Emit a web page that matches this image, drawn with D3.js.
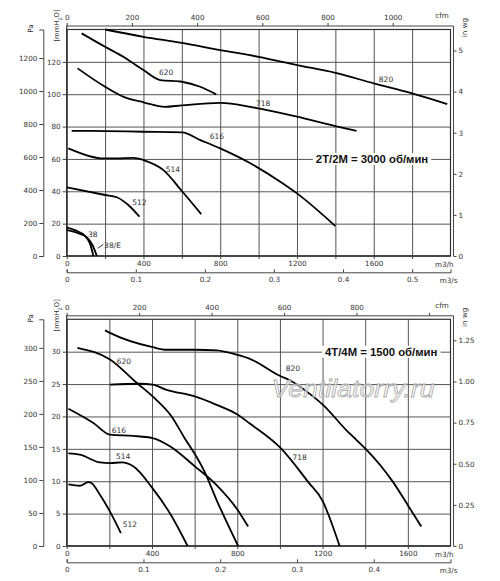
<!DOCTYPE html>
<html>
<head>
<meta charset="utf-8">
<script src="https://cdn.jsdelivr.net/npm/d3@7.9.0/dist/d3.min.js"></script>
<style>
  body { margin: 0; background: #fff; }
  svg text { font-family: "DejaVu Sans", sans-serif; fill: #333; }
  .grid line { stroke: #555; stroke-width: 1; }
  .grid path { display: none; }
  .axis path, .axis line { stroke: #444; stroke-width: 1; }
  .curve { fill: none; stroke: #000; stroke-width: 1.8; }
</style>
</head>
<body>
<svg id="chart" width="500" height="581"></svg>
<script>
const MM_TO_PA = 9.80665;
const MM_PER_INWG = 25.4;
const M3H_PER_CFM = 1.699;

// ---- 2T/2M (3000 rpm): airflow m3/h vs pressure mmH2O ----
const top820 = [[200,140],[400,135.5],[600,131.7],[800,127.3],[1000,123.1],[1200,118],[1400,113.2],[1600,106.7],[1800,100.5],[1983,93.9]];
const top620 = [[78,137.6],[200,129.3],[295,123.1],[400,114.9],[487,108.7],[600,107.7],[696,104.6],[779,99.9]];
const top718 = [[57,116],[200,104.6],[300,98.2],[400,95],[513,92.2],[600,93.1],[800,94.7],[957,92.2],[1000,91.2],[1200,86.1],[1400,80.3],[1510,77.4]];
const top616 = [[26,77.4],[200,77.2],[400,76.8],[600,76.4],[700,71.5],[800,66.5],[957,57.3],[1113,45.9],[1200,38.7],[1400,18.5]];
const top514 = [[8,66.5],[200,60.3],[261,60.3],[348,60.7],[400,59.3],[504,53.1],[600,40.2],[701,25.9]];
const top512 = [[0,42.4],[200,37.7],[261,36.3],[321,31.5],[379,24.3]];
const top38  = [[0,17.7],[61,15],[95,12.5],[121,7.8],[139,0]];
const top38E = [[0,16.1],[61,14],[104,11.6],[134,6.8],[157,0]];

const topLabels = [
  ['620', 518, 113.2], ['718', 1024, 94.3], ['820', 1664, 109.4], ['616', 783, 74.1],
  ['514', 553, 53.6], ['512', 379, 32.9], ['38', 136, 13.6]
];
const topMmTicks   = [0, 20, 40, 60, 80, 100, 120];
const topPaTicks   = [0, 200, 400, 600, 800, 1000, 1200];
const topInwgTicks = [0, 1, 2, 3, 4, 5];
const topCfmTicks  = [0, 200, 400, 600, 800, 1000];
const topFlowTicks = [0, 200, 400, 600, 800, 1000, 1200, 1400, 1600, 1800];
const topM3sTicks  = [0, 0.1, 0.2, 0.3, 0.4, 0.5];
const topTitle = '2T/2M = 3000 об/мин';

// ---- 4T/4M (1500 rpm) ----
const bot820 = [[180,33.3],[203,32.9],[403,30.7],[468,30.3],[601,30.3],[703,30.2],[801,29.5],[859,28.9],[1004,26.2],[1046,25.6],[1155,23.1],[1202,21.8],[1311,17.9],[1358,16.4],[1402,15],[1530,9.9],[1600,6.3],[1663,3.0]];
const bot620 = [[50,30.6],[203,28.8],[328,25.2],[403,23.1],[492,20],[554,16.6],[601,14.2],[643,11.7],[703,7.1],[804,0]];
const bot718 = [[203,24.9],[343,25.05],[403,24.9],[468,24.1],[601,23.1],[703,21.8],[801,20.3],[859,18.9],[1004,15.1],[1132,9.9],[1202,6.85],[1225,5.05],[1280,0]];
const bot616 = [[8,21.2],[125,19],[203,17.2],[312,17.0],[403,16.65],[484,15.4],[601,12.3],[703,9.4],[801,5.6],[851,3.0]];
const bot514 = [[8,14.3],[62,14.1],[156,12.9],[203,12.8],[258,12.9],[312,12.3],[403,8.9],[484,5.05],[567,0]];
const bot512 = [[8,9.5],[62,9.3],[101,9.85],[117,9.7],[156,7.9],[203,5.3],[254,2.0]];

const botLabels = [
  ['820', 1061, 27.4], ['620', 268, 28.5], ['718', 1093, 13.7], ['616', 245, 17.9],
  ['514', 265, 13.8], ['512', 296, 3.4]
];
const botMmTicks   = [0, 5, 10, 15, 20, 25, 30];
const botPaTicks   = [0, 50, 100, 150, 200, 250, 300];
const botInwgTicks = [0, 0.25, 0.5, 0.75, 1.0, 1.25];
const botCfmTicks  = [0, 200, 400, 600, 800, 1000];
const botFlowTicks = [0, 200, 400, 600, 800, 1000, 1200, 1400, 1600];
const botM3sTicks  = [0, 0.1, 0.2, 0.3, 0.4];
const botTitle = '4T/4M = 1500 об/мин';

const panels = [
  {
    top: 29.5, bottom: 256, left: 66.7, right: 450.5, flowMax: 2000, mmMax: 140,
    curves: [top820, top620, top718, top616, top514, top512, top38, top38E],
    labels: topLabels, mmTicks: topMmTicks, paTicks: topPaTicks, inwgTicks: topInwgTicks,
    inwgFmt: d3.format('d'), cfmTicks: topCfmTicks, cfmShown: d => true,
    flowTicks: topFlowTicks, m3sTicks: topM3sTicks,
    title: topTitle, titleAt: [1591, 60], extra: 'e38'
  },
  {
    top: 319.3, bottom: 546, left: 66.7, right: 450.5, flowMax: 1800, mmMax: 35,
    curves: [bot820, bot620, bot718, bot616, bot514, bot512],
    labels: botLabels, mmTicks: botMmTicks, paTicks: botPaTicks, inwgTicks: botInwgTicks,
    inwgFmt: d => d === 0 ? '0' : d3.format('.2f')(d), cfmTicks: botCfmTicks, cfmShown: d => d < 1000,
    flowTicks: botFlowTicks, m3sTicks: botM3sTicks,
    title: botTitle, titleAt: [1475, 30], extra: 'watermark'
  }
];

const svg = d3.select('#chart');
const FS = 7.2;

function drawPanel(p) {
  const g = svg.append('g');
  const x = d3.scaleLinear().domain([0, p.flowMax]).range([p.left, p.right]);
  const y = d3.scaleLinear().domain([0, p.mmMax]).range([p.bottom, p.top]);
  const w = p.right - p.left, h = p.bottom - p.top;

  // gridlines
  g.append('g').attr('class', 'grid')
    .attr('transform', `translate(0,${p.bottom})`)
    .call(d3.axisBottom(x).tickValues(p.flowTicks.filter(d => d > 0)).tickSize(-h).tickFormat(''));
  g.append('g').attr('class', 'grid')
    .attr('transform', `translate(${p.left},0)`)
    .call(d3.axisLeft(y).tickValues(p.mmTicks.filter(d => d > 0)).tickSize(-w).tickFormat(''));

  // frame
  g.append('rect').attr('x', p.left).attr('y', p.top).attr('width', w).attr('height', h)
    .attr('fill', 'none').attr('stroke', '#333').attr('stroke-width', 1.2);
  g.append('line').attr('x1', p.left).attr('x2', p.right).attr('y1', p.bottom).attr('y2', p.bottom)
    .attr('stroke', '#333').attr('stroke-width', 1.6);

  // mmH2O axis (left frame)
  const mmAxis = g.append('g').attr('class', 'axis').attr('transform', `translate(${p.left},0)`)
    .call(d3.axisLeft(y).tickValues(p.mmTicks).tickSize(4).tickSizeOuter(0).tickPadding(2));
  mmAxis.selectAll('text').style('font-size', FS + 'px');
  g.append('line').attr('x1', p.left).attr('x2', p.left).attr('y1', p.top - 4).attr('y2', p.bottom)
    .attr('stroke', '#333').attr('stroke-width', 1.2);

  // Pa axis
  const pa = d3.scaleLinear().domain([0, p.mmMax * MM_TO_PA]).range([p.bottom, p.top]);
  const paAxis = g.append('g').attr('class', 'axis').attr('transform', 'translate(43.3,0)')
    .call(d3.axisLeft(pa).tickValues(p.paTicks).tickFormat(d3.format('d')).tickSize(4).tickPadding(2));
  paAxis.selectAll('text').style('font-size', FS + 'px');

  // in wg axis (right)
  const wg = d3.scaleLinear().domain([0, p.mmMax / MM_PER_INWG]).range([p.bottom, p.top]);
  const wgX = p.right + 3;
  const wgAxis = g.append('g').attr('class', 'axis').attr('transform', `translate(${wgX},0)`)
    .call(d3.axisRight(wg).tickValues(p.inwgTicks).tickFormat(p.inwgFmt).tickSize(3).tickSizeOuter(0).tickPadding(2));
  wgAxis.selectAll('text').style('font-size', FS + 'px');
  wgAxis.select('.domain').attr('d', `M0,${p.top - 3.5}V${p.bottom}`);

  // cfm axis (top)
  const cfm = d3.scaleLinear().domain([0, p.flowMax / M3H_PER_CFM]).range([p.left, p.right]);
  const cfmAxis = g.append('g').attr('class', 'axis').attr('transform', `translate(0,${p.top - 3.5})`)
    .call(d3.axisTop(cfm).tickValues(p.cfmTicks).tickFormat(d => p.cfmShown(d) ? d : '')
      .tickSize(3).tickSizeOuter(0).tickPadding(3));
  cfmAxis.selectAll('text').style('font-size', FS + 'px');
  cfmAxis.select('.domain').attr('d', `M${p.left},0H${wgX}`);

  // m3/h axis (bottom)
  const flowAxis = g.append('g').attr('class', 'axis').attr('transform', `translate(0,${p.bottom})`)
    .call(d3.axisBottom(x).tickValues(p.flowTicks).tickFormat(d => d % 400 === 0 ? d : '')
      .tickSize(3).tickSizeOuter(0).tickPadding(2));
  flowAxis.selectAll('text').style('font-size', FS + 'px');
  flowAxis.select('.domain').remove();

  // m3/s axis
  const m3s = d3.scaleLinear().domain([0, p.flowMax / 3600]).range([p.left, p.right]);
  const m3sAxis = g.append('g').attr('class', 'axis').attr('transform', `translate(0,${p.bottom + 16.3})`)
    .call(d3.axisBottom(m3s).tickValues(p.m3sTicks).tickFormat(d => d === 0 ? '0' : d3.format('.1f')(d))
      .tickSizeInner(-3).tickSizeOuter(-3).tickPadding(5));
  m3sAxis.selectAll('text').style('font-size', FS + 'px');

  // unit labels
  const unit = (txt, tx, ty, rot, anchor) => g.append('text')
    .attr('transform', `translate(${tx},${ty}) rotate(${rot})`)
    .attr('text-anchor', anchor).attr('dy', '0.35em').style('font-size', FS + 'px').text(txt);
  unit('Pa', 30, p.top - 1, -90, 'middle');
  unit('in wg', 464, p.top - 2, -90, 'middle');
  unit('cfm', 442, p.top - 14, 0, 'middle');
  unit('m3/h', p.right + 3, p.bottom + 8, 0, 'end');
  unit('m3/s', p.right + 7, p.bottom + 24, 0, 'end');
  const mmLabel = g.append('text')
    .attr('transform', `translate(57,${p.top - 4}) rotate(-90)`)
    .attr('text-anchor', 'middle').attr('dy', '0.35em').style('font-size', '6.8px');
  mmLabel.append('tspan').text('[mmH');
  mmLabel.append('tspan').attr('baseline-shift', 'sub').style('font-size', '5px').text('2');
  mmLabel.append('tspan').text('O]');

  // title with white box
  const tt = g.append('text').attr('x', x(p.titleAt[0])).attr('y', y(p.titleAt[1]))
    .attr('text-anchor', 'middle').attr('dy', '0.36em')
    .style('font-family', '"Liberation Sans", Arial, sans-serif')
    .style('font-weight', 'bold').style('font-size', '11.3px').style('fill', '#111')
    .text(p.title);
  const bb = tt.node().getBBox();
  g.insert('rect', () => tt.node())
    .attr('x', bb.x - 3).attr('y', bb.y).attr('width', bb.width + 6).attr('height', bb.height)
    .attr('fill', '#fff');

  // curves
  const line = d3.line().x(d => x(d[0])).y(d => y(d[1])).curve(d3.curveMonotoneX);
  g.selectAll('path.curve').data(p.curves).join('path')
    .attr('class', 'curve').attr('d', line);

  g.selectAll('text.lbl').data(p.labels).join('text')
    .attr('class', 'lbl')
    .attr('x', d => x(d[1])).attr('y', d => y(d[2]))
    .attr('text-anchor', 'middle').attr('dy', '0.35em')
    .style('font-size', '7.5px')
    .text(d => d[0]);

  if (p.extra === 'e38') {
    g.append('line').attr('x1', x(162)).attr('y1', y(4.8)).attr('x2', x(191)).attr('y2', y(7.2))
      .attr('stroke', '#000').attr('stroke-width', 0.8);
    g.append('text').attr('x', x(195)).attr('y', y(6.8)).attr('dy', '0.35em')
      .style('font-size', '7.5px').text('38/E');
  }
  if (p.extra === 'watermark') {
    g.append('text').attr('x', x(1343)).attr('y', y(23))
      .attr('text-anchor', 'middle')
      .attr('textLength', 163).attr('lengthAdjust', 'spacingAndGlyphs')
      .style('font-family', '"Liberation Sans", Arial, sans-serif')
      .style('font-style', 'italic').style('font-size', '24px')
      .style('fill', '#fff').style('fill-opacity', 0.55)
      .style('stroke', '#aaa').style('stroke-width', 0.8)
      .text('Ventilatorry.ru');
  }
}

panels.forEach(drawPanel);
</script>
</body>
</html>
